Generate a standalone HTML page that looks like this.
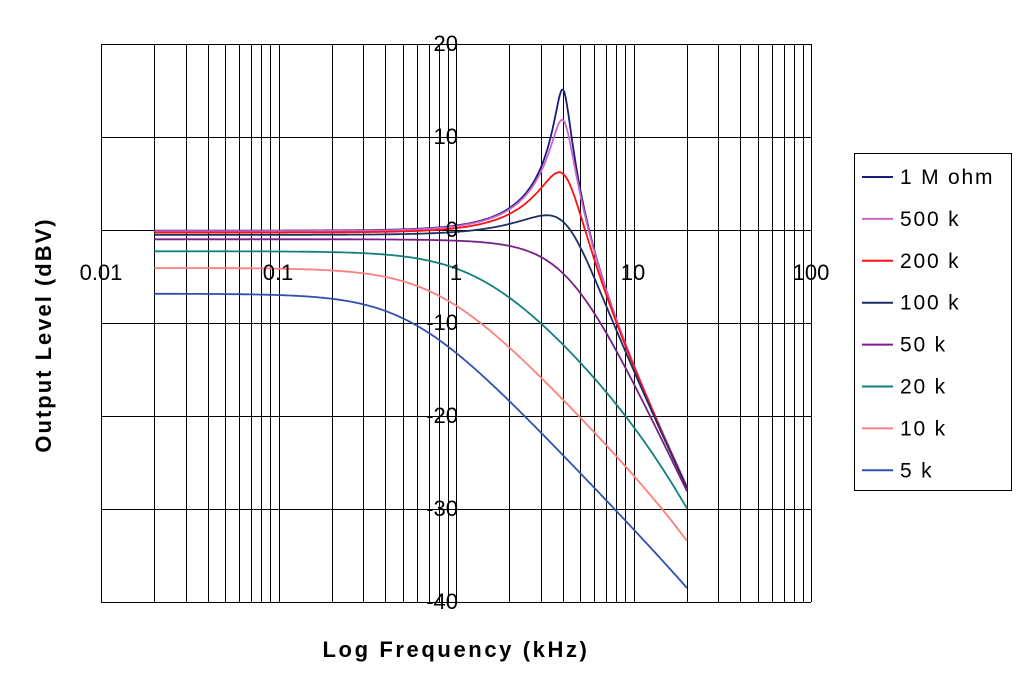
<!DOCTYPE html>
<html><head><meta charset="utf-8"><style>
body{margin:0;background:#fff;}
svg{display:block;font-family:"Liberation Sans",Arial,sans-serif;}
</style></head><body>
<svg id="s" width="1024" height="700" xmlns="http://www.w3.org/2000/svg">
<g id="grid" stroke="#000" stroke-width="1" fill="none"></g>
<g id="curves" fill="none" stroke-width="1.8"></g>
<g font-size="22" fill="#000">
<text x="101" y="280" text-anchor="middle">0.01</text>
<text x="278" y="280" text-anchor="middle">0.1</text>
<text x="456" y="280" text-anchor="middle">1</text>
<text x="633" y="280" text-anchor="middle">10</text>
<text x="811" y="280" text-anchor="middle">100</text>
<text x="458" y="51" text-anchor="end">20</text>
<text x="458" y="144" text-anchor="end">10</text>
<text x="458" y="237" text-anchor="end">0</text>
<text x="458" y="330" text-anchor="end">-10</text>
<text x="458" y="423" text-anchor="end">-20</text>
<text x="458" y="516" text-anchor="end">-30</text>
<text x="458" y="609" text-anchor="end">-40</text>
</g>
<text x="456" y="657" text-anchor="middle" font-size="22" font-weight="bold" letter-spacing="2.6">Log Frequency (kHz)</text>
<text transform="translate(51,335) rotate(-90)" text-anchor="middle" font-size="22" font-weight="bold" letter-spacing="2">Output Level (dBV)</text>
<rect x="854.5" y="153.5" width="157" height="337" fill="#fff" stroke="#000"/>
<g id="legend" font-size="21"></g>
</svg>
<script>
var NS="http://www.w3.org/2000/svg";
function X(f){return 101+177.5*Math.log10(f/0.01);}
function Y(d){return 230-9.3*d;}
var g=document.getElementById('grid');
function ln(x1,y1,x2,y2,p){var l=document.createElementNS(NS,'line');l.setAttribute('x1',x1);l.setAttribute('y1',y1);l.setAttribute('x2',x2);l.setAttribute('y2',y2);(p||g).appendChild(l);}
for(var dec=0.01;dec<100;dec*=10){for(var m=1;m<10;m++){var x=Math.round(X(dec*m))+0.5;ln(x,44,x,602);}}
ln(811.5,44,811.5,602);
for(var d=20;d>=-40;d-=10){var y=Math.round(Y(d))+0.5;ln(101,y,811,y);}
var series=[[1000,'#1a1a80','1 M ohm'],[500,'#cc66cc','500 k'],[200,'#ff1010','200 k'],[100,'#1f2f66','100 k'],[50,'#7a1f8a','50 k'],[20,'#118080','20 k'],[10,'#ff7f7f','10 k'],[5,'#3050b0','5 k']];
var r=6,L=3.2,C=0.495e-9,Rp=4e6;
var cg=document.getElementById('curves'),lg=document.getElementById('legend');
series.forEach(function(s,i){
  var R0=s[0]*1000,R=R0*Rp/(R0+Rp),rr=r*1000,pts=[];
  for(var k=0;k<=400;k++){var f=0.02*Math.pow(1000,k/400);var w=2*Math.PI*f*1000;
    var a=rr,b=w*L,c=1/R,dd=w*C;
    var re=a*c-b*dd,im=a*dd+b*c;
    var den=Math.hypot(1+re,im);var db=-20*Math.log10(den)+20*Math.log10((R0+rr)/(R+rr))*0;
    pts.push(X(f).toFixed(1)+','+Y(db).toFixed(1));}
  var p=document.createElementNS(NS,'polyline');p.setAttribute('points',pts.join(' '));p.setAttribute('stroke',s[1]);cg.appendChild(p);
  var y=177+i*41.9;
  var l=document.createElementNS(NS,'line');l.setAttribute('x1',862);l.setAttribute('x2',893);l.setAttribute('y1',y);l.setAttribute('y2',y);l.setAttribute('stroke',s[1]);l.setAttribute('stroke-width',2);lg.appendChild(l);
  var t=document.createElementNS(NS,'text');t.setAttribute('x',900);t.setAttribute('y',y+7);t.setAttribute('letter-spacing','1.8');t.textContent=s[2];lg.appendChild(t);
});
</script>
</body></html>
